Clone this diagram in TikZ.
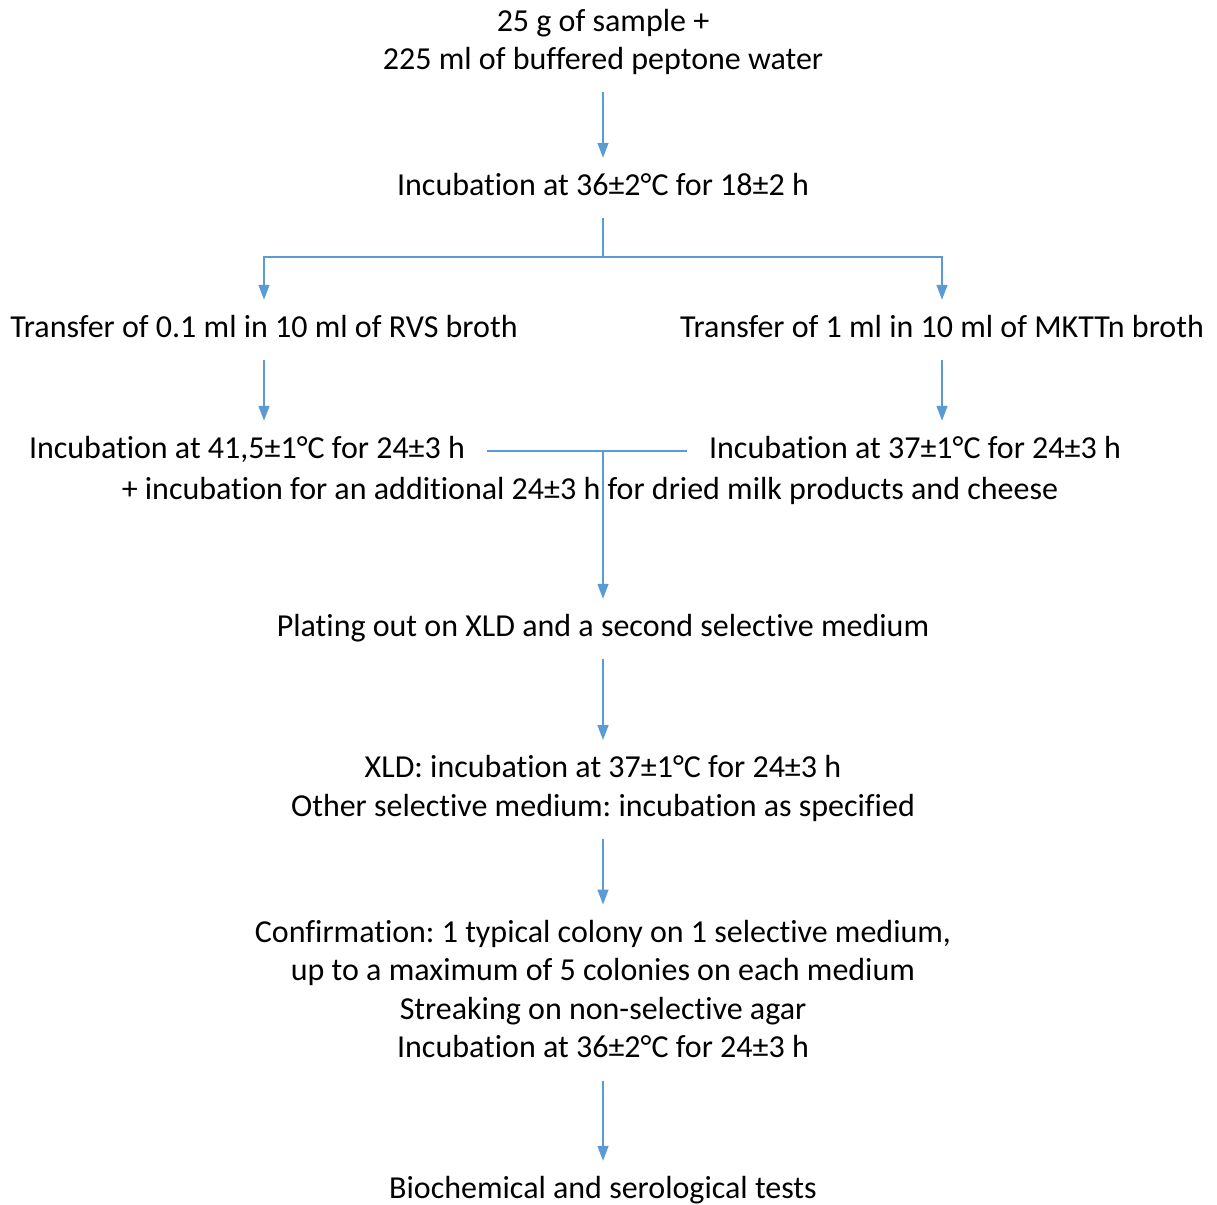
\documentclass[tikz,border=0pt]{standalone}
\usepackage{fontspec}
\setmainfont[Ligatures=NoCommon]{Carlito}
\usetikzlibrary{arrows.meta}
\definecolor{flowblue}{RGB}{91,155,213}
\frenchspacing

\begin{document}
\begin{tikzpicture}[x=1pt, y=-1pt,
    txt/.style={inner xsep=22pt, inner ysep=11pt, outer sep=0pt, align=center,
        font=\fontsize{32}{38.5}\selectfont},
    flow/.style={draw=flowblue, line width=1.5pt},
    arr/.style={flow, -{Triangle[width=11pt, length=15pt]}}]
    \useasboundingbox (0,0) rectangle (1217,1204);

    % steps
    \node[txt] (sample) at (603,43) {\strut 25 g of sample +\\\strut 225 ml of buffered peptone water};
    \node[txt] (inc1) at (603,188) {\strut Incubation at 36±2°C for 18±2 h};
    \coordinate (split) at (603,257);
    \node[txt] (rvs) at (264,330) {\strut Transfer of 0.1 ml in 10 ml of RVS broth};
    \node[txt] (mkttn) at (942,330) {\strut Transfer of 1 ml in 10 ml of MKTTn broth};
    \node[txt] (inc41) at (247,451) {\strut Incubation at 41,5±1°C for 24±3 h};
    \node[txt] (inc37) at (915,451) {\strut Incubation at 37±1°C for 24±3 h};
    \node[txt] (extra) at (590,492) {\strut + incubation for an additional 24±3 h for dried milk products and cheese};
    \coordinate (merge) at (603,451);
    \node[txt] (plate) at (603,629) {\strut Plating out on XLD and a second selective medium};
    \node[txt] (xld) at (603,789.5) {\strut XLD: incubation at 37±1°C for 24±3 h\\\strut Other selective medium: incubation as specified};
    \node[txt] (confirm) at (603,992.5) {\strut Confirmation: 1 typical colony on 1 selective medium,\\\strut up to a maximum of 5 colonies on each medium\\\strut Streaking on non-selective agar\\\strut Incubation at 36±2°C for 24±3 h};
    \node[txt] (tests) at (603,1191) {\strut Biochemical and serological tests};

    % connectors
    \draw[arr] (sample.south) -- (inc1.north);
    \draw[flow] (inc1.south) -- (split);
    \draw[arr] (split) -| (rvs.north);
    \draw[arr] (split) -| (mkttn.north);
    \draw[arr] (rvs.south) -- (rvs.south |- inc41.north);
    \draw[arr] (mkttn.south) -- (mkttn.south |- inc37.north);
    \draw[flow] (inc41.east) -- (inc37.west);
    \draw[arr] (inc41.east -| merge) -- (plate.north);
    \draw[arr] (plate.south) -- (xld.north);
    \draw[arr] (xld.south) -- (confirm.north);
    \draw[arr] (confirm.south) -- (tests.north);
\end{tikzpicture}
\end{document}
